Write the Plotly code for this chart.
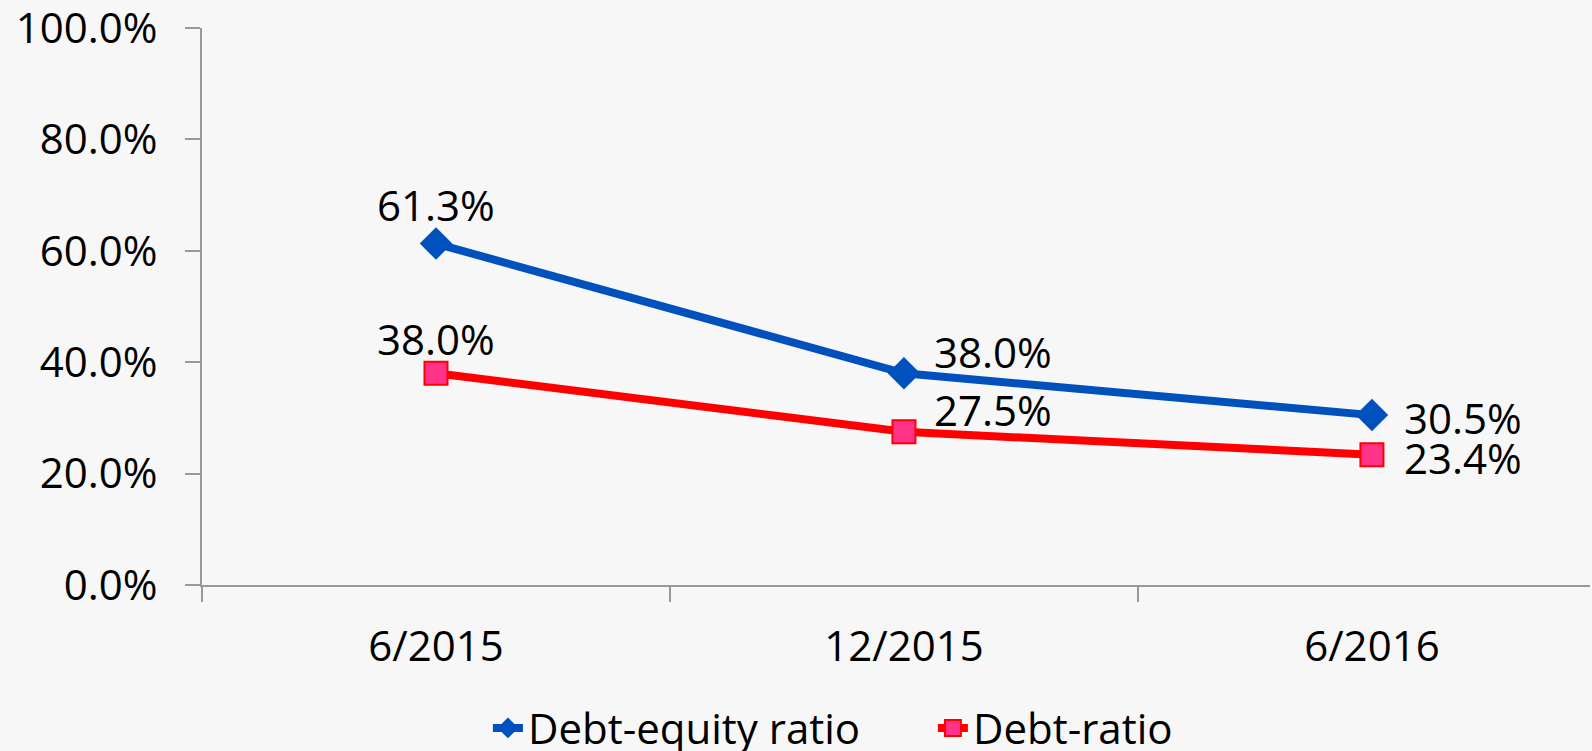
import plotly.graph_objects as go

categories = ["6/2015", "12/2015", "6/2016"]
debt_equity = [61.3, 38.0, 30.5]
debt_ratio = [38.0, 27.5, 23.4]
y_ticks = [0, 20, 40, 60, 80, 100]
y_tick_labels = [f"{v:.1f}%" for v in y_ticks]

FONT = "Open Sans"
FS = 42

fig = go.Figure()
fig.add_trace(go.Scatter(
    x=categories, y=debt_equity, name="Debt-equity ratio",
    mode="lines+markers",
    line=dict(color="#0050BE", width=8),
    marker=dict(symbol="diamond", size=25, color="#0050BE"),
    cliponaxis=False,
))
fig.add_trace(go.Scatter(
    x=categories, y=debt_ratio, name="Debt-ratio",
    mode="lines+markers",
    line=dict(color="#FF0000", width=8),
    marker=dict(symbol="square", size=23, color="#FF3388", line=dict(color="#FF0000", width=2)),
    cliponaxis=False,
))

# data labels: (xanchor, xshift, yshift) per point
label_pos = [("center", 0, 39), ("left", 28, 22), ("left", 30, -2)]
label_pos_red = [("center", 0, 35), ("left", 28, 22), ("left", 30, -3)]
for series, positions in ((debt_equity, label_pos), (debt_ratio, label_pos_red)):
    for cat, val, (xa, xs, ys) in zip(categories, series, positions):
        fig.add_annotation(
            x=cat, y=val, xref="x", yref="y", text=f"{val:.1f}%",
            showarrow=False, xanchor=xa, yanchor="middle", xshift=xs, yshift=ys,
            font=dict(family=FONT, size=FS, color="#000000"),
        )

fig.update_layout(
    width=1592, height=751,
    paper_bgcolor="#F7F7F7", plot_bgcolor="#F7F7F7",
    margin=dict(l=202, r=2, t=28, b=166, autoexpand=False),
    font=dict(family=FONT, size=FS, color="#000000"),
    showlegend=True,
    legend=dict(orientation="h", x=0.206, xanchor="left", y=-0.257, yanchor="middle",
                font=dict(family=FONT, size=FS), bgcolor="rgba(0,0,0,0)",
                entrywidth=400, entrywidthmode="pixels"),
)
fig.update_xaxes(
    type="category", range=[-0.5, 2.466],
    showline=True, linecolor="#999999", linewidth=2,
    ticks="outside", tickson="boundaries", ticklen=15, tickcolor="#999999", tickwidth=2,
    showgrid=False, zeroline=False,
    tickfont=dict(family=FONT, size=FS), ticklabelstandoff=24,
)
fig.update_yaxes(
    range=[0, 100], tickvals=y_ticks, ticktext=y_tick_labels,
    showline=True, linecolor="#999999", linewidth=2,
    ticks="outside", ticklen=15, tickcolor="#999999", tickwidth=2,
    showgrid=False, zeroline=False, ticklabeloverflow="allow",
    tickfont=dict(family=FONT, size=FS), ticklabelstandoff=19,
)

fig.write_html("out.html", config={"displayModeBar": False},
               post_script="document.body.style.margin='0';")
